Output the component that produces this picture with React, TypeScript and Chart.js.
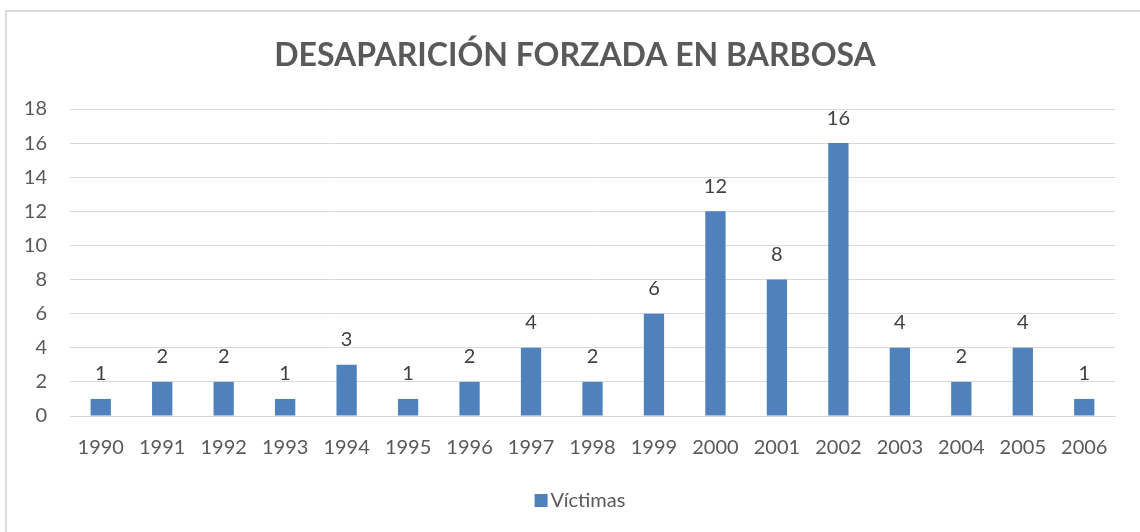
import React, { useEffect, useRef } from "react";
import { Chart, registerables } from "chart.js";

Chart.register(...registerables);

const years = ["1990", "1991", "1992", "1993", "1994", "1995", "1996", "1997", "1998", "1999", "2000", "2001", "2002", "2003", "2004", "2005", "2006"];
const victims = [1, 2, 2, 1, 3, 1, 2, 4, 2, 6, 12, 8, 16, 4, 2, 4, 1];
const seriesName = "Víctimas";
const chartTitle = "DESAPARICIÓN FORZADA EN BARBOSA";

const FONT = "Lato, 'Open Sans', sans-serif";
const BAR_COLOR = "#4f81bd";

const frame = {
  id: "frame",
  beforeDraw(chart: any) {
    const ctx = chart.ctx;
    ctx.save();
    ctx.fillStyle = "#ffffff";
    ctx.fillRect(0, 0, chart.width, chart.height);
    ctx.strokeStyle = "#dcdcdc";
    ctx.lineWidth = 2;
    ctx.beginPath();
    ctx.moveTo(6, chart.height);
    ctx.lineTo(6, 11);
    ctx.lineTo(chart.width, 11);
    ctx.stroke();
    ctx.restore();
  },
};

const titleAndLegend = {
  id: "titleAndLegend",
  afterDraw(chart: any) {
    const ctx = chart.ctx;
    ctx.save();
    // title
    ctx.font = `bold 32px ${FONT}`;
    ctx.fillStyle = "#595959";
    ctx.textAlign = "center";
    ctx.textBaseline = "middle";
    ctx.fillText(chartTitle, 575, 56);
    // legend
    const ds = chart.data.datasets[0];
    ctx.font = `20px ${FONT}`;
    const tw = ctx.measureText(ds.label).width;
    const total = 13 + 3 + tw;
    const x0 = 580 - total / 2;
    ctx.fillStyle = ds.backgroundColor;
    ctx.fillRect(x0, 494, 13, 13);
    ctx.fillStyle = "#595959";
    ctx.textAlign = "left";
    ctx.fillText(ds.label, x0 + 16, 501);
    ctx.restore();
  },
};

const dataLabels = {
  id: "dataLabels",
  afterDatasetsDraw(chart: any) {
    const ctx = chart.ctx;
    ctx.save();
    ctx.font = `20px ${FONT}`;
    ctx.fillStyle = "#404040";
    ctx.textAlign = "center";
    ctx.textBaseline = "middle";
    chart.data.datasets.forEach((ds: any, i: number) => {
      const meta = chart.getDatasetMeta(i);
      meta.data.forEach((bar: any, j: number) => {
        ctx.fillText(String(ds.data[j]), bar.x, bar.y - 25);
      });
    });
    ctx.restore();
  },
};

export default function App() {
  const ref = useRef<HTMLCanvasElement>(null);
  useEffect(() => {
    if (!ref.current) return;
    const chart = new Chart(ref.current, {
      type: "bar",
      data: {
        labels: years,
        datasets: [
          {
            label: seriesName,
            data: victims,
            backgroundColor: BAR_COLOR,
            borderWidth: 0,
            categoryPercentage: 0.33,
            barPercentage: 1,
          },
        ],
      },
      options: {
        animation: false,
        responsive: false,
        layout: { padding: { top: 109, right: 25, left: 0, bottom: 52 } },
        plugins: {
          title: { display: false },
          legend: { display: false },
          tooltip: { enabled: false },
        },
        scales: {
          x: {
            grid: { display: false },
            border: { display: true, color: "#d9d9d9", width: 1 },
            ticks: { color: "#595959", font: { family: FONT, size: 20 }, padding: 12, maxRotation: 0 },
            afterFit(scale: any) {
              scale.height = 64;
            },
          },
          y: {
            min: 0,
            max: 18,
            ticks: { stepSize: 2, color: "#595959", font: { family: FONT, size: 20 }, padding: 23 },
            grid: { color: "#d9d9d9", lineWidth: 1, drawTicks: false },
            border: { display: false },
            afterFit(scale: any) {
              scale.width = 70;
            },
          },
        },
      },
      plugins: [frame, dataLabels, titleAndLegend],
    });
    return () => chart.destroy();
  }, []);
  return (
    <div style={{ position: "absolute", left: 0, top: 0, width: 1140, height: 532 }}>
      <canvas ref={ref} width={1140} height={532} />
    </div>
  );
}
